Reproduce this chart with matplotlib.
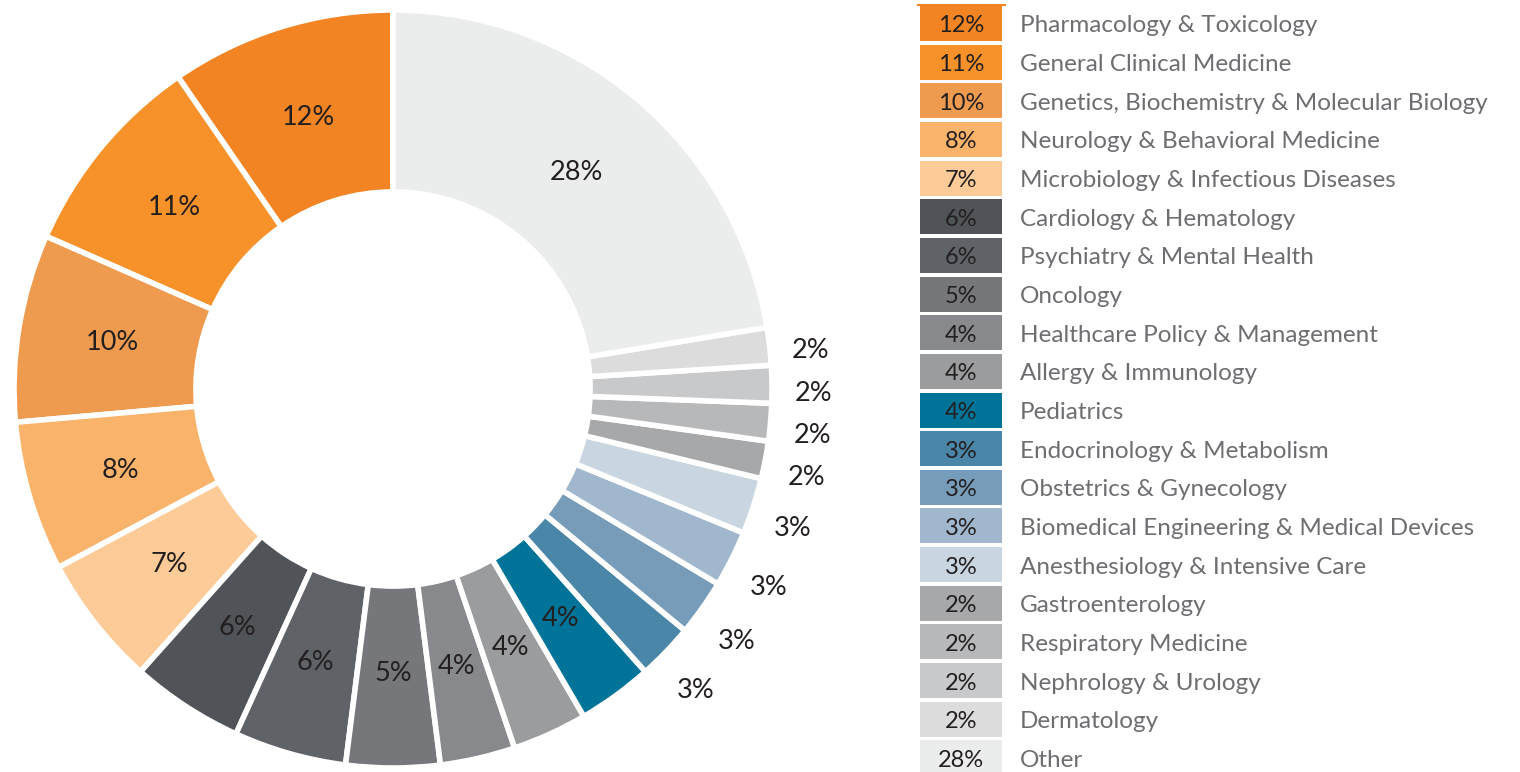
import numpy as np
import matplotlib.pyplot as plt

# Data
subjects = ['Pharmacology & Toxicology', 'General Clinical Medicine',
            'Genetics, Biochemistry & Molecular Biology', 'Neurology & Behavioral Medicine',
            'Microbiology & Infectious Diseases', 'Cardiology & Hematology',
            'Psychiatry & Mental Health', 'Oncology', 'Healthcare Policy & Management',
            'Allergy & Immunology', 'Pediatrics', 'Endocrinology & Metabolism',
            'Obstetrics & Gynecology', 'Biomedical Engineering & Medical Devices',
            'Anesthesiology & Intensive Care', 'Gastroenterology', 'Respiratory Medicine',
            'Nephrology & Urology', 'Dermatology', 'Other']
shares = [12, 11, 10, 8, 7, 6, 6, 5, 4, 4, 4, 3, 3, 3, 3, 2, 2, 2, 2, 28]
colors = ['#F28423', '#F7922A', '#EE9B50', '#F9B36A', '#FDCB97',
          '#505358', '#5F6368', '#75777B', '#87898C', '#9A9C9E',
          '#007399', '#4A86A8', '#769CB9', '#A0B7CD', '#C9D6E2',
          '#A7A8AA', '#B7B8BA', '#C8C9CB', '#DCDCDD', '#EBECEC']

plt.rcParams['font.family'] = ['Lato', 'DejaVu Sans']

W, H = 1520, 772
fig = plt.figure(figsize=(W / 100, H / 100), dpi=100)

# donut
cx, cy, R = 393, 389, 379
ax = fig.add_axes([(cx - R) / W, (H - cy - R) / H, 2 * R / W, 2 * R / H])
wedges, _ = ax.pie(shares, colors=colors, startangle=90, counterclock=True,
                   radius=1, wedgeprops=dict(width=0.48, edgecolor='white', linewidth=4))
ax.set_xlim(-1, 1)
ax.set_ylim(-1, 1)
ax.set_aspect('equal')
ax.axis('off')

for w, v in zip(wedges, shares):
    ang = np.deg2rad((w.theta1 + w.theta2) / 2)
    if v >= 4:
        x, y = 0.75 * np.cos(ang), 0.75 * np.sin(ang)
    else:
        x, y = 1.11 * np.cos(ang), 1.11 * np.sin(ang) - 0.025
    ax.text(x, y, '{}%'.format(v), ha='center', va='center',
            fontsize=19.5, color='#231F20')

# legend
lax = fig.add_axes([0, 0, 1, 1])
lax.set_xlim(0, W)
lax.set_ylim(H, 0)
lax.axis('off')
lax.plot([918, 1005], [5, 5], color='#F28423', lw=1.5)
for i, (name, v, c) in enumerate(zip(subjects, shares, colors)):
    yc = 24 + i * 38.65
    lax.add_patch(plt.Rectangle((920, yc - 18), 82, 35, facecolor=c, edgecolor='none'))
    lax.text(961, yc + 2, '{}%'.format(v), ha='center', va='center', fontsize=17, color='#231F20')
    lax.text(1020, yc + 2, name, ha='left', va='center', fontsize=17.5, color='#6D6E71')

fig.savefig('out.png', dpi=100)
